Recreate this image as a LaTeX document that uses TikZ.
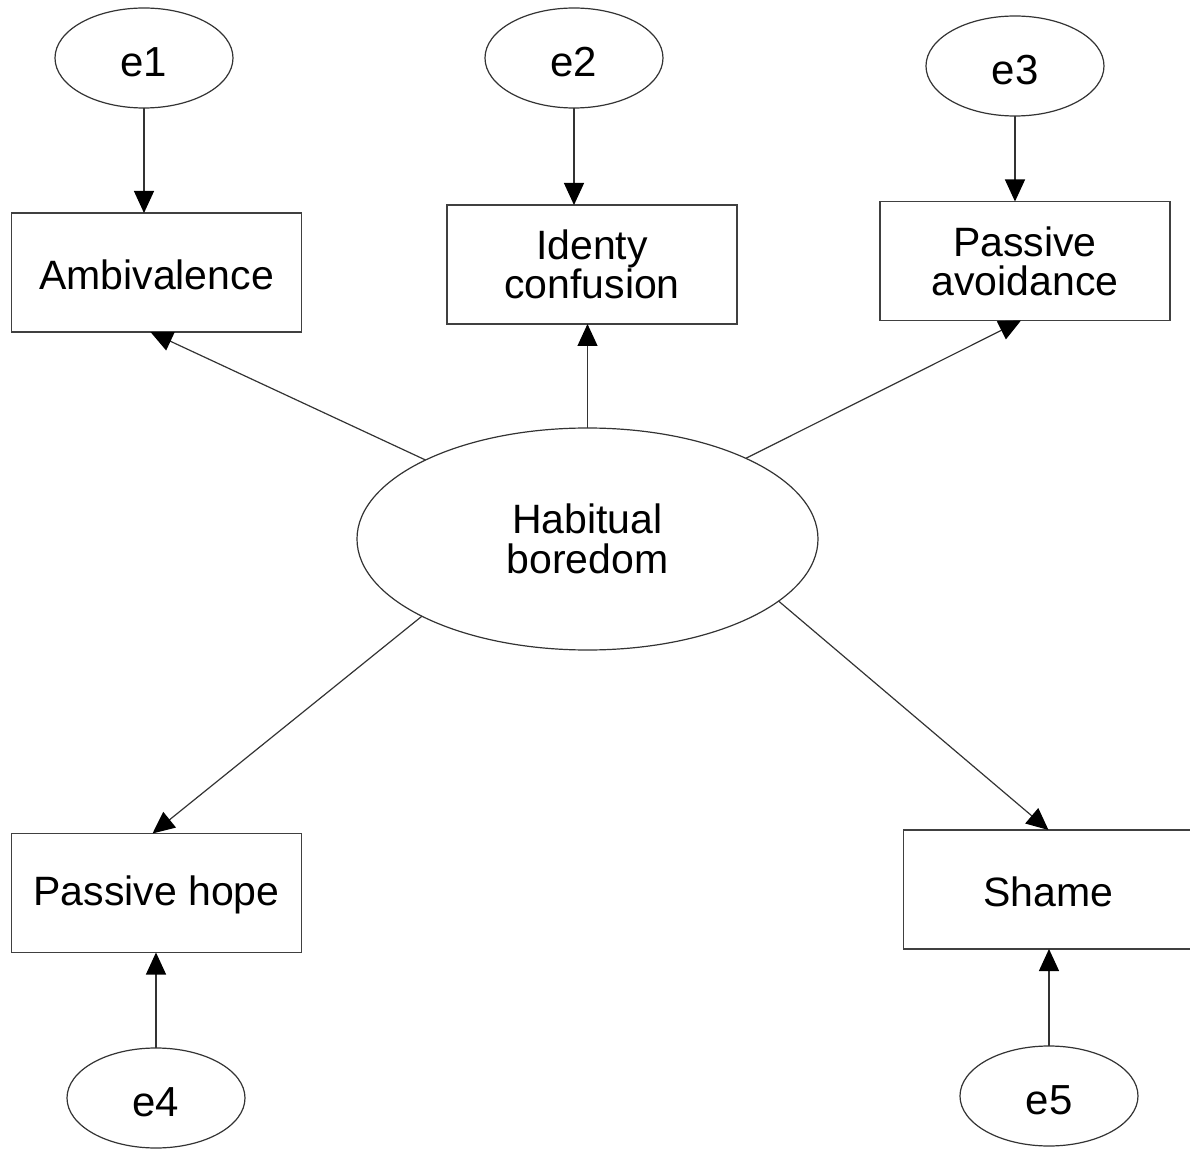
\documentclass[tikz,border=0pt]{standalone}
\usepackage{fontspec}
\setmainfont{Liberation Sans}
\usetikzlibrary{positioning}
\usetikzlibrary{shapes,arrows.meta,shapes.geometric,calc}
\newcommand{\boxwidth}{145pt}
\newcommand{\boxheight}{59.5pt}

\begin{document}
\begin{tikzpicture}[x=0.5pt, y=-0.5pt, outer sep=0pt]
\tikzstyle{observed}=[
                  draw=black!75,
                  line width=0.7pt,
                  rectangle,
                  minimum width=\boxwidth,
                  minimum height=\boxheight,
                  align=center,
                  fill=white,
                  font=\fontsize{20.5}{19.5}\selectfont]

\tikzstyle{latent}=[
                  draw=black!80,
                  line width=0.6pt,
                  ellipse,
                  inner sep=0pt,
                  minimum width=230.5pt,
                  minimum height=111pt,
                  align=center,
                  font=\fontsize{20.5}{20}\selectfont]

\tikzstyle{error}=[
                  draw=black!80,
                  line width=0.6pt,
                  ellipse,
                  inner sep=0pt,
                  minimum width=89pt,
                  minimum height=50pt,
                  text height=19pt,
                  font=\fontsize{21}{22}\selectfont]

\tikzstyle{loading}=[
                  draw=black!80,
                  line width=0.6pt,
                  -{Triangle[length=11pt,width=10pt,color=black]}]

\useasboundingbox (0,0) rectangle (1190,1150);

\node[latent]   (bored) at(587.5,539)  {Habitual\\boredom};

\node[observed] (amb)   at(156.5,272.5) [text height=17pt] {Ambivalence};
\node[observed] (idc)   at(592,264.5)   {Identy\\confusion};
\node[observed] (pav)   at(1025,261)    {Passive\\avoidance};
\node[observed] (phope) at(156.5,893)   [text height=17pt] {Passive hope};
\node[observed] (shame) at(1048.5,889.5) [text height=17pt] {Shame};

\node[error] (e1) at(144,58)    {e1};
\node[error] (e2) at(574,58)    {e2};
\node[error] (e3) at(1015,66)   {e3};
\node[error] (e4) at(156,1098)  {e4};
\node[error] (e5) at(1049,1096) {e5};

\draw [loading] (e1.south) -- (e1.south |- amb.north);
\draw [loading] (e2.south) -- (e2.south |- idc.north);
\draw [loading] (e3.south) -- (e3.south |- pav.north);
\draw [loading] (e4.north) -- (e4.north |- phope.south);
\draw [loading] (e5.north) -- (e5.north |- shame.south);

\draw [loading] (bored.154.6) -- ([xshift=-3pt]amb.south);
\draw [loading] (bored.north) -- (bored.north |- idc.south);
\draw [loading] (bored.27.1)  -- ([xshift=-2pt]pav.south);
\draw [loading] (bored.-155.4) -- ([xshift=-2pt]phope.north);
\draw [loading] (bored.-18.2) -- (shame.north);

\end{tikzpicture}
\end{document}
